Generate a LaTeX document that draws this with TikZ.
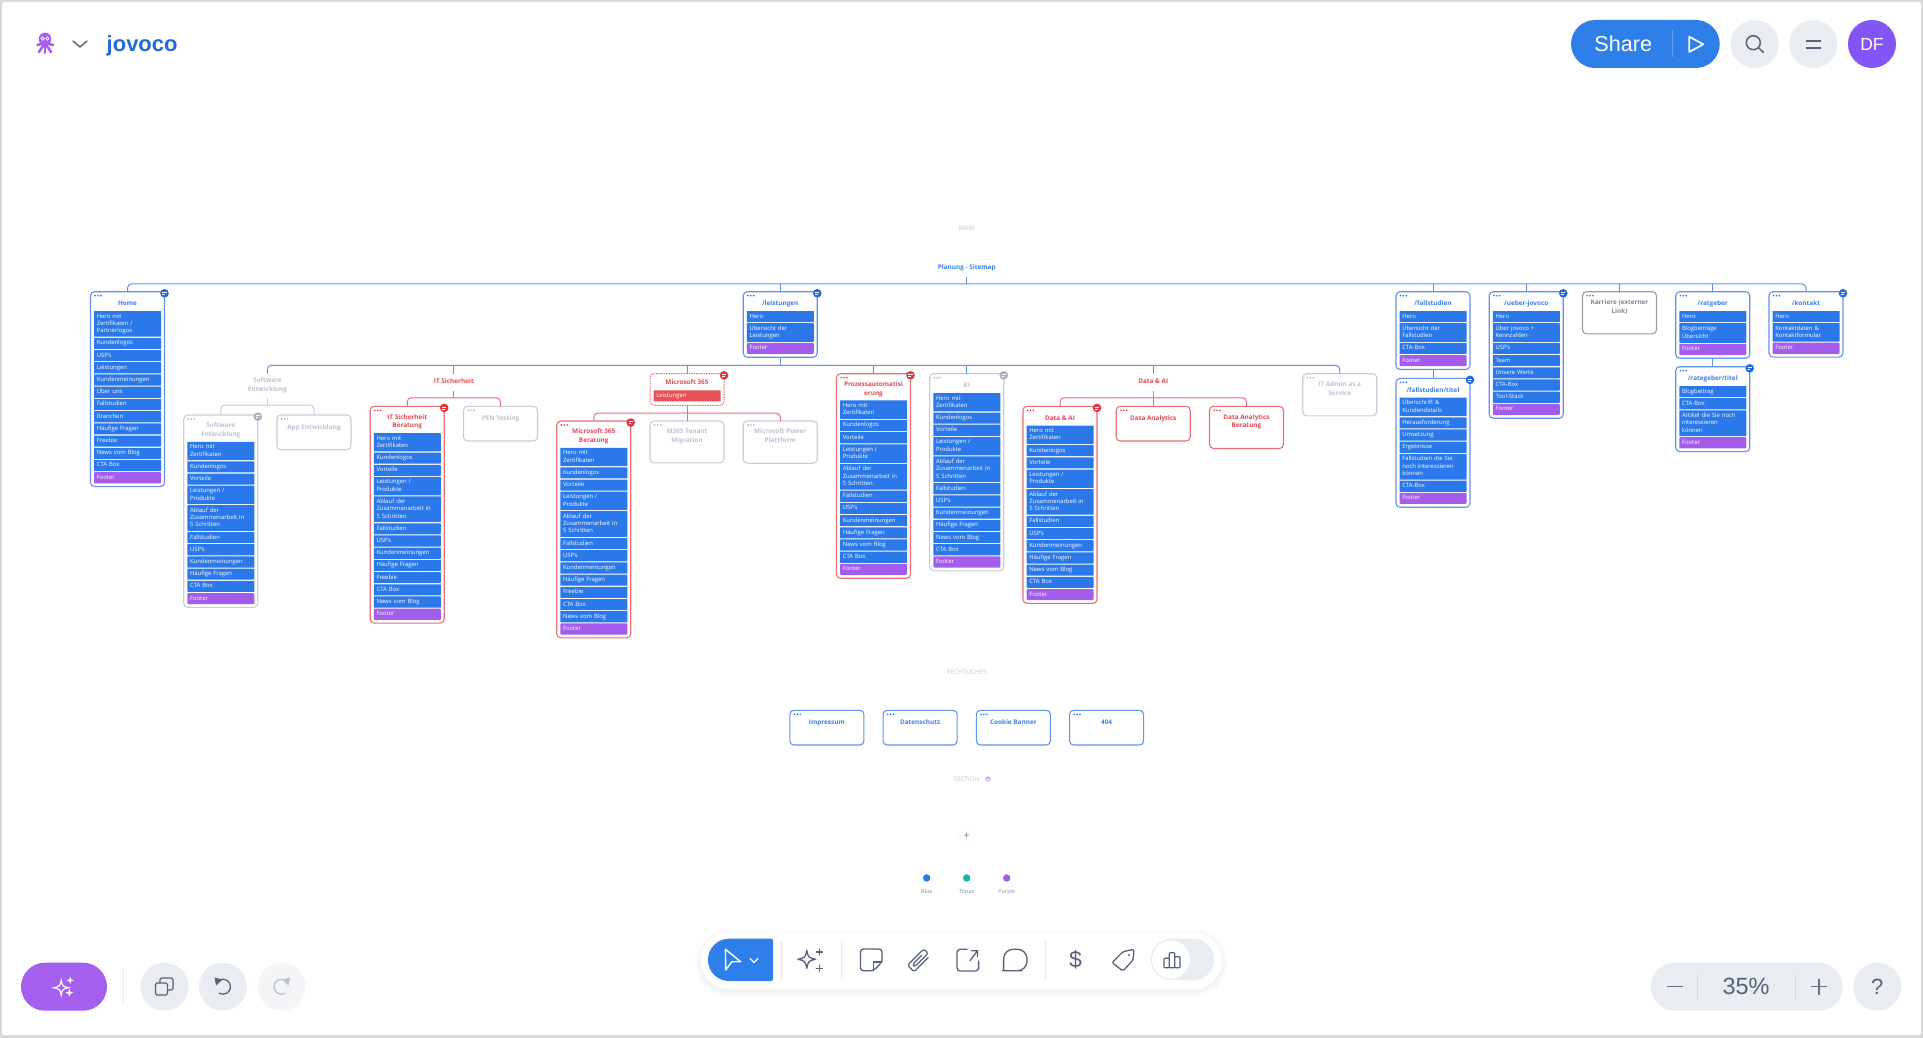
\documentclass[tikz,border=0pt]{standalone}
\usepackage{fontspec}
\setmainfont{Open Sans}
\newfontfamily\uifont{Liberation Sans}
\usetikzlibrary{positioning,calc,fit}
\definecolor{blueLine}{RGB}{96,147,232}
\definecolor{blueTitle}{RGB}{60,128,234}
\definecolor{blueDots}{RGB}{36,104,222}
\definecolor{grayLine}{RGB}{196,206,220}
\definecolor{grayTitle}{RGB}{186,195,208}
\definecolor{grayDots}{RGB}{170,178,192}
\definecolor{redLine}{RGB}{234,112,118}
\definecolor{redTitle}{RGB}{230,72,82}
\definecolor{redDots}{RGB}{224,56,66}
\definecolor{darkLine}{RGB}{150,158,170}
\definecolor{darkTitle}{RGB}{128,136,150}
\definecolor{darkDots}{RGB}{110,118,132}
\definecolor{rowBlue}{RGB}{43,120,234}
\definecolor{rowPurple}{RGB}{164,92,236}
\definecolor{rowRed}{RGB}{232,80,88}
\definecolor{shareBlue}{RGB}{46,127,234}
\definecolor{avatarPurple}{RGB}{132,85,246}
\definecolor{magicPurple}{RGB}{165,95,238}
\definecolor{topaz}{RGB}{20,184,160}
\definecolor{pale}{RGB}{233,237,241}
\definecolor{paler}{RGB}{243,245,247}
\definecolor{iconSlate}{RGB}{86,98,122}
\definecolor{divider}{RGB}{231,234,238}
\definecolor{sectionGray}{RGB}{196,200,208}
\tikzset{
    pagerow/.style={fill=rowBlue, text=white, rounded corners=0.5pt, text width=61.4pt, align=left,
      inner xsep=2.8pt, inner ysep=1.9pt, outer sep=0pt,
      font=\fontsize{5.9}{7.3}\selectfont,
      execute at begin node=\strut, execute at end node=\strut},
    footerrow/.style={pagerow, fill=rowPurple, rounded corners=1pt},
    cardtitle/.style={text=#1Title, align=center, inner sep=0pt, outer sep=0pt,
      font=\fontsize{6.4}{8.7}\selectfont\bfseries,
      execute at begin node=\strut, execute at end node=\strut},
    grouplabel/.style={cardtitle=#1, inner ysep=4.2pt},
    cardframe/.style={draw=#1Line, rounded corners=4pt, line width=1.1pt, inner sep=0pt, outer sep=0pt},
    statusbadge/.style={circle, fill=#1, inner sep=0pt, minimum size=8.6pt},
    blueLink/.style={draw=blueLine, line width=1pt, rounded corners=4pt},
    redLink/.style={draw=redLine, line width=1pt, rounded corners=4pt},
    grayLink/.style={draw=grayLine, line width=1pt, rounded corners=4pt},
    roundpill/.style={circle, fill=pale, minimum size=48pt, inner sep=0pt},
    widepill/.style={rounded corners=24pt, inner sep=0pt},
    toolicon/.style={draw=iconSlate, line width=1.3pt, line join=round, line cap=round},
    sectiontext/.style={text=sectionGray, font=\fontsize{6.3}{7}\selectfont},
    swatchdot/.style={circle, inner sep=0pt, minimum size=7.4pt},
    swatchtext/.style={text=iconSlate!70, font=\fontsize{5.5}{6}\selectfont},
}
\newcommand{\colx}[1]{127.5+93.25*(#1)}
\newcommand{\pagehead}[5]{%
    \coordinate (#1-tl) at ({\colx{#2}-37},#3);
    \node[cardtitle=#4, anchor=north] (#1-title) at ({\colx{#2}},{#3+8}) {#5};
    \foreach \d in {0,1,2} \fill[#4Dots] ($(#1-tl)+(4.6+2.9*\d,4)$) circle (0.9);
}
\newcommand{\pagecard}[6]{%
    \pagehead{#1}{#2}{#3}{#4}{#5}
    \coordinate (#1-r0) at ($(#1-title.south)+(0,1.5)$);
    \foreach \rowtext [count=\n, remember=\n as \m (initially 0)] in {#6} {
        \node[pagerow, below=1.1pt of #1-r\m] (#1-r\n) {\rowtext};
        \xdef\lastrow{\n}
    }
    \node[footerrow, below=1.1pt of #1-r\lastrow] (#1-foot) {Footer};
    \coordinate (#1-br) at ($(#1-foot.south east)+(3.5,3.3)$);
    \node[cardframe=#4, fit=(#1-tl)(#1-br)] (#1) {};
}
\newcommand{\stubcard}[5]{%
    \pagehead{#1}{#2}{#3}{#4}{#5}
    \coordinate (#1-br) at ($(#1-title.south)+(37,18)$);
    \node[cardframe=#4, fit=(#1-tl)(#1-br)] (#1) {};
}
\newcommand{\statusdot}[2]{%
    \node[statusbadge=#2] (#1-dot) at ($(#1.north east)+(0,1.6)$) {};
    \draw[white, line width=0.6pt] ($(#1-dot.center)+(-2.2,-0.9)$) -- +(4.4,0);
    \draw[white, line width=0.6pt] ($(#1-dot.center)+(-2.2,0.9)$) -- +(2.8,0);
}
\newcommand{\sparkle}[4][]{%
    \path[#1, shift={(#2,#3)}, scale=#4] (0,-1) .. controls (.18,-.18) .. (1,0) .. controls (.18,.18) .. (0,1)
      .. controls (-.18,.18) .. (-1,0) .. controls (-.18,-.18) .. (0,-1) -- cycle;
}
\begin{document}
\begin{tikzpicture}[x=1pt,y=-1pt]
    \useasboundingbox (0,0) rectangle (1923,1038);
    \fill[black!15] (0,0) rectangle (1923,1038);
    \fill[white, rounded corners=2pt] (2,2) rectangle (1921,1035);

    % section headings
    \node[sectiontext] (mainhead) at (966.7,228) {MAIN};
    \node[cardtitle=blue, anchor=center, inner ysep=5pt] (sitemap) at (966.7,267.3) {Planung - Sitemap};
    \node[sectiontext] (legalhead) at (966.7,672.7) {RECHTLICHES};
    \node[sectiontext] (sectionhead) at (966.7,779) {SECTION};
    \node[circle, fill=avatarPurple!45, inner sep=0pt, minimum size=5.4pt, right=2pt of sectionhead] (sectiondot) {};
    \draw[white, line width=0.5pt] ($(sectiondot.center)+(-1.5,0)$) -- +(3,0);

    % top row
    \pagecard{home}{0}{291.7}{blue}{Home}{Hero mit\\Zertifikaten /\\Partnerlogos, Kundenlogos, USP's, Leistungen, Kundenmeinungen, Über uns, Fallstudien, Branchen, Häufige Fragen, Freebie, News vom Blog, CTA Box}
    \pagecard{leistungen}{7}{291.7}{blue}{/leistungen}{Hero, Übersicht der\\Leistungen}
    \pagecard{fallstudien}{14}{291.7}{blue}{/fallstudien}{Hero, Übersicht der\\Fallstudien, CTA-Box}
    \pagecard{fallstudientitel}{14}{378.3}{blue}{/fallstudien/titel}{Überschrift \&\\Kundendetails, Herausforderung, Umsetzung, Ergebnisse, Fallstudien die Sie\\noch interessieren\\können, CTA-Box}
    \pagecard{ueber}{15}{291.7}{blue}{/ueber-jovoco}{Hero, Über jovoco +\\Kennzahlen, USP's, Team, Unsere Werte, CTA-Box, Tool-Stack}
    \stubcard{karriere}{16}{291.7}{dark}{Karriere (externer\\Link)}
    \pagecard{ratgeber}{17}{291.7}{blue}{/ratgeber}{Hero, Blogbeiträge\\Übersicht}
    \pagecard{ratgebertitel}{17}{366.7}{blue}{/rategeber/titel}{Blogbeitrag, CTA-Box, Artikel die Sie noch\\interessieren\\können}
    \pagecard{kontakt}{18}{291.7}{blue}{/kontakt}{Hero, Kontaktdaten \&\\Kontaktformular}

    % services row
    \node[grouplabel=gray, anchor=north] (swlabel) at ({\colx{1.5}},373.7) {Software\\Entwicklung};
    \pagecard{software}{1}{415}{gray}{Software\\Entwicklung}{Hero mit\\Zertifikaten, Kundenlogos, Vorteile, Leistungen /\\Produkte, Ablauf der\\Zusammenarbeit in\\5 Schritten, Fallstudien, USP's, Kundenmeinungen, Häufige Fragen, CTA Box}
    \stubcard{appdev}{2}{415}{gray}{App Entwicklung}
    \node[grouplabel=red, anchor=north] (itlabel) at ({\colx{3.5}},373.7) {IT Sicherheit};
    \pagecard{itconsult}{3}{406.3}{red}{IT Sicherheit\\Beratung}{Hero mit\\Zertifikaten, Kundenlogos, Vorteile, Leistungen /\\Produkte, Ablauf der\\Zusammenarbeit in\\5 Schritten, Fallstudien, USP's, Kundenmeinungen, Häufige Fragen, Freebie, CTA Box, News vom Blog}
    \stubcard{pentest}{4}{406.3}{gray}{PEN Testing}

    \coordinate (ms-tl) at ({\colx{6}-37},373.7);
    \node[cardtitle=red, anchor=north] (ms-title) at ({\colx{6}},378) {Microsoft 365};
    \node[pagerow, fill=rowRed, below=3.6pt of ms-title] (ms-r1) {Leistungen};
    \coordinate (ms-br) at ($(ms-r1.south east)+(3.5,4)$);
    \node[draw=redLine, rounded corners=4pt, line width=1pt, dash pattern=on 1.5pt off 1pt, inner sep=0pt, outer sep=0pt, fit=(ms-tl)(ms-br)] (ms) {};
    \pagecard{msconsult}{5}{421}{red}{Microsoft 365\\Beratung}{Hero mit\\Zertifikaten, Kundenlogos, Vorteile, Leistungen /\\Produkte, Ablauf der\\Zusammenarbeit in\\5 Schritten, Fallstudien, USP's, Kundenmeinungen, Häufige Fragen, Freebie, CTA Box, News vom Blog}
    \stubcard{tenant}{6}{421}{gray}{M365 Tenant\\Migration}
    \stubcard{power}{7}{421}{gray}{Microsoft Power\\Plattform}

    \pagecard{prozess}{8}{373.7}{red}{Prozessautomatisi\\erung}{Hero mit\\Zertifikaten, Kundenlogos, Vorteile, Leistungen /\\Produkte, Ablauf der\\Zusammenarbeit in\\5 Schritten, Fallstudien, USP's, Kundenmeinungen, Häufige Fragen, News vom Blog, CTA Box}
    \pagecard{ki}{9}{373.7}{gray}{KI}{Hero mit\\Zertifikaten, Kundenlogos, Vorteile, Leistungen /\\Produkte, Ablauf der\\Zusammenarbeit in\\5 Schritten, Fallstudien, USP's, Kundenmeinungen, Häufige Fragen, News vom Blog, CTA Box}

    \node[grouplabel=red, anchor=north] (datalabel) at ({\colx{11}},373.7) {Data \& AI};
    \pagecard{dataai}{10}{406.3}{red}{Data \& AI}{Hero mit\\Zertifikaten, Kundenlogos, Vorteile, Leistungen /\\Produkte, Ablauf der\\Zusammenarbeit in\\5 Schritten, Fallstudien, USP's, Kundenmeinungen, Häufige Fragen, News vom Blog, CTA Box}
    \stubcard{analytics}{11}{406.3}{red}{Data Analytics}
    \stubcard{analyticsconsult}{12}{406.3}{red}{Data Analytics\\Beratung}
    \stubcard{itadmin}{13}{373.7}{gray}{IT Admin as a\\Service}

    % legal row
    \stubcard{impressum}{7.5}{710.3}{blue}{Impressum}
    \stubcard{datenschutz}{8.5}{710.3}{blue}{Datenschutz}
    \stubcard{cookie}{9.5}{710.3}{blue}{Cookie Banner}
    \stubcard{notfound}{10.5}{710.3}{blue}{404}

    \statusdot{home}{blueDots}
    \statusdot{leistungen}{blueDots}
    \statusdot{fallstudientitel}{blueDots}
    \statusdot{ueber}{blueDots}
    \statusdot{ratgebertitel}{blueDots}
    \statusdot{kontakt}{blueDots}
    \statusdot{software}{grayDots}
    \statusdot{ki}{grayDots}
    \statusdot{itconsult}{redDots}
    \statusdot{ms}{redDots}
    \statusdot{msconsult}{redDots}
    \statusdot{prozess}{redDots}
    \statusdot{dataai}{redDots}

    % connectors
    \coordinate (mainbus) at ($(sitemap.south)+(0,7.3)$);
    \draw[blueLink] (sitemap.south) -- (mainbus);
    \draw[blueLink] (home.north) |- (mainbus) -| (kontakt.north);
    \foreach \t in {leistungen,fallstudien,ueber,karriere,ratgeber}
        \draw[blueLink] (\t.north) -- (\t.north |- mainbus);
    \coordinate (subbus) at ($(leistungen.south)+(0,8)$);
    \draw[blueLink] (leistungen.south) -- (subbus);
    \draw[blueLink] (swlabel.north) |- (subbus) -| (itadmin.north);
    \foreach \t in {itlabel,ms,prozess,ki,datalabel}
        \draw[blueLink] (\t.north) -- (\t.north |- subbus);
    \draw[blueLink] (fallstudien.south) -- (fallstudientitel.north);
    \draw[blueLink] (ratgeber.south) -- (ratgebertitel.north);

    \coordinate (swbus) at ($(swlabel.south)+(0,6.8)$);
    \draw[grayLink] (swlabel.south) -- (swbus);
    \draw[grayLink] (software.north) |- (swbus) -| (appdev.north);
    \coordinate (itbus) at ($(itlabel.south)+(0,7)$);
    \draw[redLink] (itlabel.south) -- (itbus);
    \draw[redLink] (itconsult.north) |- (itbus) -| (pentest.north);
    \coordinate (msbus) at ($(ms.south)+(0,7.7)$);
    \draw[redLink] (ms.south) -- (tenant.north);
    \draw[redLink] (msconsult.north) |- (msbus) -| (power.north);
    \coordinate (databus) at ($(datalabel.south)+(0,7)$);
    \draw[redLink] (datalabel.south) -- (analytics.north);
    \draw[redLink] (dataai.north) |- (databus) -| (analyticsconsult.north);

    % add button and colour swatches
    \node[circle, draw=paler, inner sep=0pt, minimum size=16pt, text=iconSlate!80, font=\fontsize{11}{11}\selectfont] (addsection) at (966.7,836.7) {+};
    \node[swatchdot, fill=rowBlue] (blueswatch) at (926.7,878) {};
    \node[swatchdot, fill=topaz] (topazswatch) at (966.7,878) {};
    \node[swatchdot, fill=rowPurple] (purpleswatch) at (1006.7,878) {};
    \node[swatchtext] (bluename) at (926.7,891.7) {Blue};
    \node[swatchtext] (topazname) at (966.7,891.7) {Topaz};
    \node[swatchtext] (purplename) at (1006.7,891.7) {Purple};

    % header left
    \foreach \tx/\ty in {37.5/45,39/52,45/53,51/52,53/45}
        \draw[magicPurple, line width=2.6pt, line cap=round] (45,43) -- (\tx,\ty);
    \fill[magicPurple] (45,39) circle (6.3);
    \draw[white, line width=0.7pt] (42.6,38.6) circle (1.7) (47.4,38.6) circle (1.7);
    \draw[iconSlate, line width=1.4pt, line cap=round, line join=round] (73,41) -- (80,47) -- (87,41);
    \node[anchor=west, inner sep=0pt, text=blueDots, font=\uifont\fontsize{22}{22}\selectfont\bfseries] (brand) at (106.5,46) {jovoco};

    % header right
    \node[widepill, fill=shareBlue, minimum width=148.7pt, minimum height=48pt] (sharepill) at (1645.4,44) {};
    \node[text=white, inner sep=0pt, font=\uifont\fontsize{21.6}{22}\selectfont] (sharetext) at (1623.3,44) {Share};
    \draw[shareBlue!75!white, line width=0.7pt] (1672.7,30) -- (1672.7,57);
    \draw[white, line width=1.7pt, line join=round] (1689.3,36.7) -- (1703.3,44.3) -- (1689.3,52) -- cycle;
    \node[roundpill] (searchbtn) at (1754.7,44) {};
    \draw[iconSlate, line width=1.5pt, line cap=round] (1753.3,42.7) circle (7) (1758.4,47.6) -- (1763.3,52.3);
    \node[roundpill] (menubtn) at (1813.3,44) {};
    \draw[iconSlate, line width=2pt] (1805.7,40.7) -- (1821,40.7) (1805.7,47.7) -- (1821,47.7);
    \node[roundpill, fill=avatarPurple, text=white, font=\uifont\fontsize{17.5}{18}\selectfont] (avatar) at (1872,44) {DF};

    % bottom left
    \node[widepill, fill=magicPurple, minimum width=86pt, minimum height=48pt] (magicbtn) at (64,986.7) {};
    \sparkle[draw=white, line width=1.2pt]{61.2}{987.7}{7.5}
    \sparkle[fill=white]{70.2}{980.3}{3.6}
    \sparkle[fill=white]{69.4}{992.7}{4}
    \draw[divider, line width=0.9pt] (123.7,968) -- (123.7,1005);
    \node[roundpill] (copybtn) at (164.5,986.7) {};
    \draw[toolicon, rounded corners=1.5pt] (155.5,983) rectangle (167.5,995);
    \draw[toolicon, rounded corners=1.5pt] (160,983) -- (160,978) -- (173,978) -- (173,990) -- (167.5,990);
    \node[roundpill] (undobtn) at (222.9,986.7) {};
    \draw[toolicon] (219.2,980.2) arc (-120:120:7.5);
    \fill[iconSlate] (214.5,977.5) -- (222.5,979.5) -- (216,985.5) -- cycle;
    \node[roundpill, fill=paler] (redobtn) at (281.6,986.7) {};
    \draw[toolicon, draw=iconSlate!40] (285.3,980.2) arc (-60:-300:7.5);
    \fill[iconSlate!40] (290,977.5) -- (282,979.5) -- (288.5,985.5) -- cycle;

    % toolbar
    \foreach \w in {3,6,9,12}
        \draw[black, opacity=0.012, line width=\w pt, rounded corners=28pt] (700.7,935) rectangle (1222,991);
    \node[fill=white, rounded corners=28pt, minimum width=521.3pt, minimum height=56.3pt, inner sep=0pt] (toolbar) at (961.3,960.8) {};
    \fill[shareBlue] [rounded corners=2pt] (750,938.7) -- (773,938.7) -- (773,981) -- (750,981) [rounded corners=21pt] -- (708,981) -- (708,938.7) -- cycle;
    \draw[white, line width=1.4pt, line join=round] (725.4,949.3) -- (740.7,961.7) -- (731.8,961.7) -- (725.7,970) -- cycle;
    \draw[white, line width=1.3pt, line cap=round, line join=round] (750,958.5) -- (754,962.5) -- (758,958.5);
    \foreach \dx in {781.4,841.4,1045.4}
        \draw[divider, line width=0.8pt] (\dx,940) -- (\dx,980);
    \sparkle[toolicon]{806.8}{959.3}{9}
    \draw[toolicon] (819.3,949) -- (819.3,955) (816.3,952) -- (822.3,952) (819.3,965.3) -- (819.3,971.3) (816.3,968.3) -- (822.3,968.3);
    \draw[toolicon, rounded corners=3pt] (873.5,970.7) -- (860.4,970.7) -- (860.4,949) -- (882,949) -- (882,962) -- cycle;
    \draw[toolicon] (873.5,970.7) -- (873.5,962) -- (882,962);
    \begin{scope}[shift={(919.3,960)}, rotate=45]
        \draw[toolicon, line width=1.2pt, rounded corners=2.2pt] (5,-1.6) -- (-8,-1.6) -- (-8,1.6) -- (11,1.6) -- (11,-4.6) -- (-12,-4.6) -- (-12,4.6) -- (8,4.6);
    \end{scope}
    \draw[toolicon, rounded corners=3pt] (967,949.3) -- (957,949.3) -- (957,971) -- (978.6,971) -- (978.6,961);
    \draw[toolicon] (970,960.7) -- (977.5,950.7) (971.5,950.7) -- (977.5,950.7) -- (977.5,956.5);
    \draw[toolicon, rounded corners=9.5pt] (1003.6,960) -- (1003.6,949.3) -- (1027,949.3) -- (1027,970.7) -- (1012,970.7) [rounded corners=0.5pt] -- (1003.6,970.7) -- cycle;
    \node[text=iconSlate, inner sep=0pt, font=\uifont\fontsize{23}{24}\selectfont] (dollar) at (1075.4,960) {\$};
    \draw[toolicon, rounded corners=1.5pt] (1134,949.3) -- (1123,951.7) -- (1112,962.7) -- (1123,971) -- (1133,960) -- cycle;
    \fill[iconSlate] (1129,955) circle (1.1);
    \node[widepill, fill=pale, rounded corners=20.7pt, minimum width=63.3pt, minimum height=41.4pt] (statstoggle) at (1182.4,959.4) {};
    \node[circle, fill=white, minimum size=38pt, inner sep=0pt] (statsknob) at (1171,959.4) {};
    \draw[toolicon, line width=1.2pt, rounded corners=0.8pt] (1164,967.7) rectangle (1169.3,958.3) (1169.3,967.7) rectangle (1174.7,952.7) (1174.7,967.7) rectangle (1180,956.7);

    % bottom right
    \node[widepill, fill=pale, minimum width=192pt, minimum height=48pt] (zoombar) at (1746.7,986.7) {};
    \draw[iconSlate!90, line width=1.3pt] (1667,986.7) -- (1683,986.7);
    \draw[iconSlate!25, line width=0.7pt] (1697.7,975) -- (1697.7,1000) (1795,975) -- (1795,1000);
    \node[text=iconSlate, inner sep=0pt, font=\uifont\fontsize{23.5}{24}\selectfont] (zoomtext) at (1746,986) {35\%};
    \draw[iconSlate!90, line width=1.3pt] (1811,986.7) -- (1827,986.7) (1819,978.7) -- (1819,994.7);
    \node[roundpill, text=iconSlate, font=\uifont\fontsize{22}{22}\selectfont] (helpbtn) at (1877.3,986.7) {?};
\end{tikzpicture}
\end{document}
